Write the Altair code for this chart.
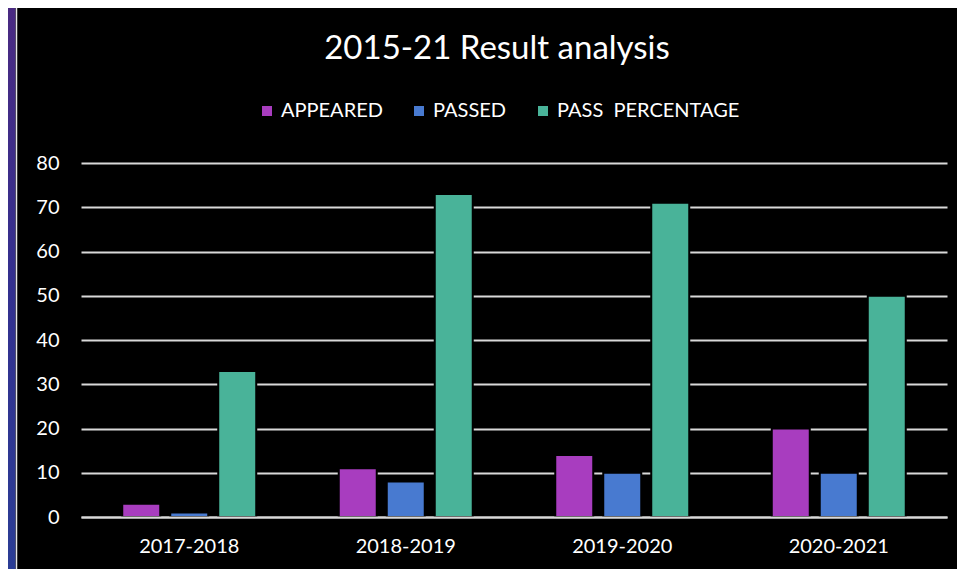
import altair as alt
import pandas as pd

years = ["2017-2018", "2018-2019", "2019-2020", "2020-2021"]
series = ["APPEARED", "PASSED", "PASS  PERCENTAGE"]
appeared = [3, 11, 14, 20]
passed = [1, 8, 10, 10]
pass_pct = [33, 73, 71, 50]
colors = ["#A83DBF", "#487AD0", "#49B399"]
y_ticks = [0, 10, 20, 30, 40, 50, 60, 70, 80]
title_text = "2015-21 Result analysis"

rows = []
for i, yr in enumerate(years):
    for s, vals in zip(series, [appeared, passed, pass_pct]):
        rows.append({"year": yr, "series": s, "value": vals[i]})
df = pd.DataFrame(rows)

W, H = 866, 354
PAD = {"left": 73, "top": 155, "right": 10, "bottom": 52}
FONT = "Lato"
GRID = "#d9d9d9"
NBSP = "\u00a0"

bars = alt.Chart(df).mark_bar(stroke="black", strokeWidth=2).encode(
    x=alt.X("year:N", sort=years, title=None,
            scale=alt.Scale(paddingInner=0.3811, paddingOuter=0.1905),
            axis=alt.Axis(labelAngle=0, ticks=False, domain=True, domainColor=GRID,
                          domainWidth=2, zindex=1, labelPadding=19,
                          labelFontSize=20, labelFont=FONT, labelColor="white")),
    xOffset=alt.XOffset("series:N", sort=series,
                        scale=alt.Scale(paddingInner=0.2083, paddingOuter=0)),
    y=alt.Y("value:Q", title=None,
            scale=alt.Scale(domain=[0, 80], nice=False),
            axis=alt.Axis(values=y_ticks, ticks=False, domain=False, grid=True,
                          gridColor=GRID, gridWidth=2, labelPadding=22,
                          labelFontSize=20, labelFont=FONT, labelColor="white")),
    color=alt.Color("series:N", sort=series,
                    scale=alt.Scale(domain=series, range=colors),
                    legend=alt.Legend(title=None, orient="none", direction="horizontal",
                                      legendX=176, legendY=-62,
                                      symbolType="square", symbolSize=100,
                                      symbolStrokeWidth=0, labelFontSize=20,
                                      labelFont=FONT, labelColor="white",
                                      labelLimit=0,
                                      labelExpr="replace(datum.label, '  ', ' " + NBSP + "')",
                                      labelOffset=4, columnPadding=26, padding=0)),
)

title = alt.Chart(pd.DataFrame({"t": [title_text]})).mark_text(
    font=FONT, fontSize=33, color="white", align="center", baseline="alphabetic"
).encode(text="t:N", x=alt.value(W / 2 - 17), y=alt.value(-104.5))

strip = alt.Chart(pd.DataFrame({"a": [0]})).mark_rect(
    fill=alt.Gradient(gradient="linear", x1=0, x2=0, y1=0, y2=1,
                      stops=[alt.GradientStop(color="#4a2a82", offset=0),
                             alt.GradientStop(color="#33308f", offset=0.5),
                             alt.GradientStop(color="#2b3d95", offset=1)]),
).encode(x=alt.value(-73), x2=alt.value(-65.5), y=alt.value(-155), y2=alt.value(H + 52))

edge = alt.Chart(pd.DataFrame({"a": [0]})).mark_rule(color="#e8e8e8", strokeWidth=1.5).encode(
    x=alt.value(-64.5), y=alt.value(-155), y2=alt.value(H + 52))

chart = alt.layer(strip, edge, title, bars).properties(
    width=W, height=H,
    autosize=alt.AutoSizeParams(type="none"),
    padding=PAD,
    background="black",
).configure_view(stroke=None)

chart.save("out.html", embed_options={"renderer": "svg", "actions": False})
